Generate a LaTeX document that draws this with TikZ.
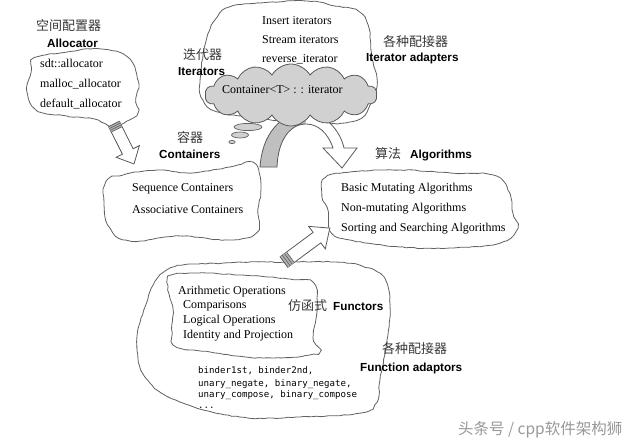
\documentclass[tikz,border=0pt]{standalone}
\usepackage{fontspec}
\setmainfont{Liberation Serif}
\setsansfont{Liberation Sans}
\setmonofont{DejaVu Sans Mono}
\newfontfamily\cjk{Noto Sans CJK SC}
\usetikzlibrary{shapes.symbols,decorations.pathmorphing}
\pgfmathsetseed{7}
\tikzset{
  outline/.style={draw=black!62, line width=0.8pt, line join=round,
    decorate, decoration={random steps, segment length=4pt, amplitude=0.45pt}},
  ser/.style={font=\fontsize{12}{14}\selectfont, anchor=base west, inner sep=0pt},
  bsans/.style={font=\fontsize{11.7}{14}\selectfont\sffamily\bfseries, anchor=base west, inner sep=0pt},
  zh/.style={font=\fontsize{13}{15}\selectfont\cjk, anchor=west, inner sep=0pt, text=black!78},
  mono/.style={font=\fontsize{9.1}{12}\selectfont\ttfamily, anchor=base west, inner sep=0pt},
  blockarrow/.style={draw=black!65, line width=0.8pt, fill=white, line join=miter},
  stripe/.style={draw=black!65, line width=0.6pt}
}
\begin{document}
\begin{tikzpicture}[x=1pt,y=-1pt]
\useasboundingbox[fill=white] (0,0) rectangle (640,442);

% ---------- Allocator cloud ----------
\draw[outline] plot[smooth cycle, tension=0.7] coordinates {
 (35,58) (67,52) (100,49) (127,57) (138,80) (136,98) (138,112) (127,121)
 (113,126) (93,119) (67,116) (38,111) (27,92) (31,72)};

% ---------- Iterators big cloud ----------
\draw[outline, fill=white] plot[smooth cycle, tension=0.7] coordinates {
 (200,83) (205,45) (215,20) (230,7) (260,3) (307,1) (335,6) (356,10)
 (368,25) (372,58) (377,82) (370,105) (357,120) (323,124) (290,122)
 (257,118) (218,112) (203,100)};

% ---------- Containers cloud ----------
\draw[outline] plot[smooth cycle, tension=0.7] coordinates {
 (106,182) (123,175) (157,170) (190,173) (230,167) (253,163) (261,185)
 (258,210) (257,232) (230,240) (180,236) (130,241) (110,228) (104,205)};

% ---------- Algorithms cloud ----------
\draw[outline] plot[smooth cycle, tension=0.7] coordinates {
 (325,178) (350,172) (400,170) (450,173) (493,175) (508,190) (513,213)
 (517,228) (500,243) (450,248) (400,247) (350,240) (332,233) (328,212) (322,195)};

% ---------- Functors outer cloud ----------
\draw[outline] plot[smooth cycle, tension=0.7] coordinates {
 (167,270) (223,263) (287,262) (335,262) (362,266) (384,278) (390,307)
 (387,340) (380,380) (377,402) (360,413) (300,417) (240,417) (183,403)
 (150,383) (137,350) (145,307)};

% ---------- Functors inner cloud ----------
\draw[outline] plot[smooth cycle, tension=0.7] coordinates {
 (170,277) (190,273) (240,275) (290,279) (313,283) (317,307) (313,337)
 (317,353) (263,358) (210,352) (177,347) (172,333) (173,310) (168,290)};

% ---------- curved arrow ----------
\fill[black!25] (260,167) .. controls (262,135) and (280,113) .. (305,113)
  -- (306,124) .. controls (290,124) and (278,140) .. (277,167) -- cycle;
\fill[white] (305,113) .. controls (325,113) and (340,130) .. (344,148)
  -- (357,148) -- (342,168) -- (323,148) -- (333,148)
  .. controls (328,133) and (318,124) .. (306,124) -- cycle;
\draw[black!65, line width=0.8pt, line join=miter]
  (260,167) .. controls (262,135) and (280,113) .. (305,113)
  .. controls (325,113) and (340,130) .. (344,148)
  -- (357,148) -- (342,168) -- (323,148) -- (333,148)
  .. controls (328,133) and (318,124) .. (306,124)
  .. controls (290,124) and (278,140) .. (277,167) -- cycle;

% ---------- thought bubbles ----------
\filldraw[draw=black!62, fill=black!18, line width=0.7pt] (248,127) ellipse [x radius=14, y radius=3.6];
\filldraw[draw=black!62, fill=black!18, line width=0.7pt] (240,135) ellipse [x radius=8.5, y radius=3];
\filldraw[draw=black!62, fill=black!18, line width=0.7pt] (232,142) ellipse [x radius=3.2, y radius=1.6];

% ---------- gray iterator cloud ----------
\node[cloud, cloud puffs=14, cloud puff arc=120, aspect=3, draw=black!65,
      fill=black!18, line width=0.8pt, minimum width=172pt, minimum height=62pt,
      inner sep=0pt] (itcloud) at (291,95) {};
\node[ser] (citer) at (222,93) {Container<T> : : iterator};

% ---------- straight arrows ----------
\begin{scope}[shift={(114,124)}, rotate=-63.4]
  \draw[blockarrow] (0,-6) -- (30.7,-6) -- (30.7,-13) -- (44.7,0) -- (30.7,13) -- (30.7,6) -- (0,6) -- cycle;
  \fill[black!30] (0,-6) rectangle (6,6);
  \draw[stripe] (0,-6) -- (0,6) (2,-6) -- (2,6) (4,-6) -- (4,6) (6,-6) -- (6,6);
\end{scope}
\begin{scope}[shift={(284,262)}, rotate=36.5]
  \draw[blockarrow] (0,-6.5) -- (41,-6.5) -- (41,-14) -- (57,0) -- (41,14) -- (41,6.5) -- (0,6.5) -- cycle;
  \fill[black!30] (0,-6.5) rectangle (8,6.5);
  \draw[stripe] (0,-6.5) -- (0,6.5) (2.7,-6.5) -- (2.7,6.5) (5.4,-6.5) -- (5.4,6.5) (8,-6.5) -- (8,6.5);
\end{scope}

% ---------- texts: Allocator ----------
\node[zh] (alloczh) at (36,26) {空间配置器};
\node[bsans] (alloc) at (47,47) {Allocator};
\node[ser] (a1) at (40,67) {sdt::allocator};
\node[ser] (a2) at (40,87) {malloc\_allocator};
\node[ser] (a3) at (40,107) {default\_allocator};

% ---------- texts: Iterators ----------
\node[zh] (iterzh) at (183,55) {迭代器};
\node[bsans] (iter) at (178,75) {Iterators};
\node[ser] (i1) at (262,24) {Insert iterators};
\node[ser] (i2) at (262,43) {Stream iterators};
\node[ser] (i3) at (262,62) {reverse\_iterator};
\node[zh] (iadzh) at (383,42) {各种配接器};
\node[bsans] (iad) at (366,61) {Iterator adapters};

% ---------- texts: Containers ----------
\node[zh] (contzh) at (177,138) {容器};
\node[bsans] (cont) at (159,158) {Containers};
\node[ser] (c1) at (132,191) {Sequence Containers};
\node[ser] (c2) at (132,213) {Associative Containers};

% ---------- texts: Algorithms ----------
\node[zh] (algzh) at (375,154) {算法};
\node[bsans] (alg) at (410,158) {Algorithms};
\node[ser] (g1) at (341,191) {Basic Mutating Algorithms};
\node[ser] (g2) at (341,211) {Non-mutating Algorithms};
\node[ser] (g3) at (341,231) {Sorting and Searching Algorithms};

% ---------- texts: Functors ----------
\node[ser] (f1) at (178,294) {Arithmetic Operations};
\node[ser] (f2) at (183,308) {Comparisons};
\node[ser] (f3) at (183,323) {Logical Operations};
\node[ser] (f4) at (183,338) {Identity and Projection};
\node[zh] (funzh) at (288,306) {仿函式};
\node[bsans] (fun) at (333,310) {Functors};
\node[zh] (fadzh) at (382,349) {各种配接器};
\node[bsans] (fad) at (360,371) {Function adaptors};
\node[mono] (m1) at (198,373) {binder1st, binder2nd,};
\node[mono] (m2) at (198,386) {unary\_negate, binary\_negate,};
\node[mono] (m3) at (198,397) {unary\_compose, binary\_compose};
\node[mono] (m4) at (198,408) {...};

% ---------- watermark ----------
\node[font=\fontsize{15.5}{17}\selectfont\cjk, text=black!40, anchor=base west, inner sep=0pt] (wm) at (458,434) {头条号 / cpp软件架构狮};
\end{tikzpicture}
\end{document}
